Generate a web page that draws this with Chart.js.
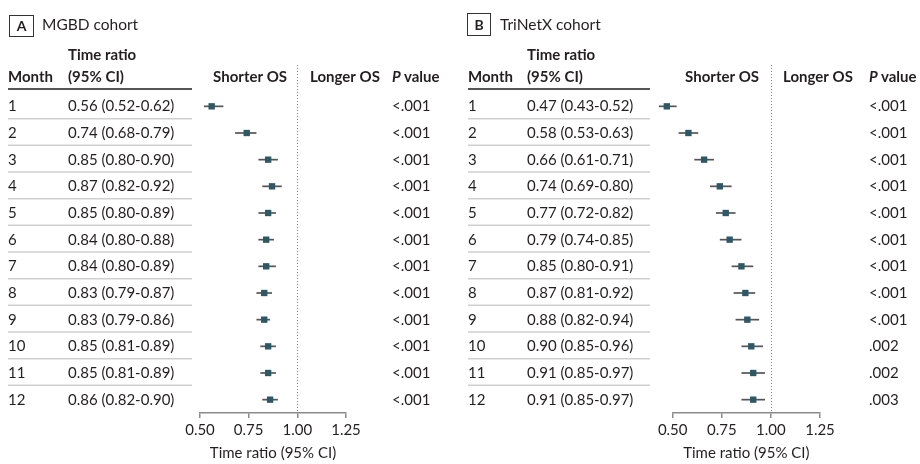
<!DOCTYPE html>
<html>
<head>
<meta charset="utf-8">
<script src="https://cdn.jsdelivr.net/npm/chart.js@4.4.0/dist/chart.umd.min.js"></script>
<style>
  html, body { margin: 0; padding: 0; background: #fff; }
  #wrap { position: relative; width: 920px; height: 464px; }
  .pane { position: absolute; top: 0; width: 460px; height: 464px; }
</style>
</head>
<body>
<div id="wrap">
  <div class="pane" style="left:0"><canvas id="cA" width="460" height="464"></canvas></div>
  <div class="pane" style="left:460px"><canvas id="cB" width="460" height="464"></canvas></div>
</div>
<script>
// ---- Data ----
const months = [1, 2, 3, 4, 5, 6, 7, 8, 9, 10, 11, 12];

const mgbdRatio = [0.56, 0.74, 0.85, 0.87, 0.85, 0.84, 0.84, 0.83, 0.83, 0.85, 0.85, 0.86];
const mgbdLow   = [0.52, 0.68, 0.80, 0.82, 0.80, 0.80, 0.80, 0.79, 0.79, 0.81, 0.81, 0.82];
const mgbdHigh  = [0.62, 0.79, 0.90, 0.92, 0.89, 0.88, 0.89, 0.87, 0.86, 0.89, 0.89, 0.90];
const mgbdP     = ['<.001', '<.001', '<.001', '<.001', '<.001', '<.001', '<.001', '<.001', '<.001', '<.001', '<.001', '<.001'];

const trinetxRatio = [0.47, 0.58, 0.66, 0.74, 0.77, 0.79, 0.85, 0.87, 0.88, 0.90, 0.91, 0.91];
const trinetxLow   = [0.43, 0.53, 0.61, 0.69, 0.72, 0.74, 0.80, 0.81, 0.82, 0.85, 0.85, 0.85];
const trinetxHigh  = [0.52, 0.63, 0.71, 0.80, 0.82, 0.85, 0.91, 0.92, 0.94, 0.96, 0.97, 0.97];
const trinetxP     = ['<.001', '<.001', '<.001', '<.001', '<.001', '<.001', '<.001', '<.001', '<.001', '.002', '.002', '.003'];

const xTicks = [0.50, 0.75, 1.00, 1.25];

// ---- Drawing ----
const FONT = 'Lato, "Liberation Sans", sans-serif';
const TEXT = '#231f20';
const MARK = '#2d5866';

function makePanel(canvasId, cfg) {
  const ratio = cfg.ratio, lo = cfg.lo, hi = cfg.hi, pv = cfg.p;
  const L = cfg.layout;

  const tablePlugin = {
    id: 'table_' + canvasId,
    beforeDatasetsDraw(chart) {
      const ctx = chart.ctx;
      const xs = chart.scales.x, ys = chart.scales.y;
      const area = chart.chartArea;
      ctx.save();
      // reference dotted line at 1.00
      const x1 = Math.round(xs.getPixelForValue(1.0)) + 0.5;
      ctx.strokeStyle = '#8a8a8a';
      ctx.lineWidth = 1;
      ctx.setLineDash([1, 2]);
      ctx.beginPath();
      ctx.moveTo(x1, area.top);
      ctx.lineTo(x1, area.bottom);
      ctx.stroke();
      ctx.setLineDash([]);
      // whiskers
      ctx.strokeStyle = '#555';
      ctx.lineWidth = 1.7;
      months.forEach((m, i) => {
        const y = ys.getPixelForValue(m);
        ctx.beginPath();
        ctx.moveTo(xs.getPixelForValue(lo[i]), y);
        ctx.lineTo(xs.getPixelForValue(hi[i]), y);
        ctx.stroke();
      });
      ctx.restore();
    },
    afterDatasetsDraw(chart) {
      // points whose centre lies left of the axis minimum are skipped by Chart.js; draw them too
      const meta = chart.getDatasetMeta(0);
      const full = { left: 0, top: 0, right: chart.width, bottom: chart.height };
      const area = chart.chartArea;
      meta.data.forEach(el => {
        if (el.x < area.left || el.x > area.right) el.draw(chart.ctx, full);
      });
    },
    afterDraw(chart) {
      const ctx = chart.ctx;
      const ys = chart.scales.y;
      ctx.save();
      // panel letter box
      ctx.strokeStyle = '#333';
      ctx.lineWidth = 1;
      ctx.strokeRect(L.box[0] + 0.5, L.box[1] + 0.5, L.box[2], L.box[3]);
      ctx.fillStyle = TEXT;
      ctx.font = 'bold 14px ' + FONT;
      ctx.textAlign = 'center';
      ctx.textBaseline = 'middle';
      ctx.fillText(cfg.letter, L.box[0] + L.box[2] / 2 + 0.5, L.box[1] + L.box[3] / 2 + 1);
      ctx.font = '15.5px ' + FONT;
      ctx.textAlign = 'left';
      ctx.fillText(cfg.title, L.titleX, 25);

      // headers
      ctx.font = 'bold 15px ' + FONT;
      ctx.fillText('Time ratio', L.trX, 55);
      ctx.fillText('Month', L.monthX, 77);
      ctx.fillText('(95% CI)', L.trX, 77);
      ctx.textAlign = 'right';
      ctx.fillText('Shorter OS', L.shorterR, 77);
      ctx.textAlign = 'left';
      ctx.fillText('Longer OS', L.longerL, 77);
      ctx.font = 'italic bold 15px ' + FONT;
      ctx.fillText('P', L.pX, 77);
      const pw = ctx.measureText('P ').width;
      ctx.font = 'bold 15px ' + FONT;
      ctx.fillText('value', L.pX + pw, 77);

      // header rule
      ctx.strokeStyle = '#555';
      ctx.lineWidth = 2;
      ctx.beginPath();
      ctx.moveTo(L.monthX, 89);
      ctx.lineTo(L.ruleR, 89);
      ctx.stroke();

      // rows
      ctx.font = '15px ' + FONT;
      ctx.fillStyle = TEXT;
      months.forEach((m, i) => {
        const y = ys.getPixelForValue(m);
        ctx.fillText(String(m), L.monthX, y);
        ctx.fillText(ratio[i].toFixed(2) + ' (' + lo[i].toFixed(2) + '-' + hi[i].toFixed(2) + ')', L.trX, y);
        ctx.fillText(pv[i], L.pX, y);
        if (i < months.length - 1) {
          const ySep = (y + ys.getPixelForValue(months[i + 1])) / 2 - 1;
          ctx.strokeStyle = '#cfcfcf';
          ctx.lineWidth = 1.5;
          ctx.beginPath();
          ctx.moveTo(L.monthX, ySep);
          ctx.lineTo(L.ruleR, ySep);
          ctx.stroke();
        }
      });
      ctx.restore();
    }
  };

  return new Chart(document.getElementById(canvasId), {
    type: 'scatter',
    data: {
      datasets: [{
        data: months.map((m, i) => ({ x: ratio[i], y: m })),
        pointStyle: 'rect',
        radius: 4.5,
        hoverRadius: 4.5,
        backgroundColor: MARK,
        borderColor: MARK,
        borderWidth: 0,
        clip: false
      }]
    },
    options: {
      responsive: false,
      animation: false,
      events: [],
      layout: { padding: { left: L.areaL, right: 460 - L.areaR, top: 65, bottom: 0 } },
      plugins: { legend: { display: false }, tooltip: { enabled: false } },
      scales: {
        x: {
          type: 'linear',
          min: 0.5,
          max: 1.25,
          afterBuildTicks: (s) => { s.ticks = xTicks.map(v => ({ value: v })); },
          afterFit: (s) => { s.height = 51; },
          ticks: {
            padding: 3,
            color: TEXT,
            font: { family: FONT, size: 15 },
            callback: (v) => Number(v).toFixed(2)
          },
          grid: { drawOnChartArea: false, drawTicks: true, tickLength: 5, color: '#8a8a8a', lineWidth: 1.5 },
          border: { display: true, color: '#8a8a8a', width: 1.5 },
          title: {
            display: true,
            text: 'Time ratio (95% CI)',
            color: TEXT,
            font: { family: FONT, size: 15 },
            padding: { top: 2, bottom: 2 }
          }
        },
        y: {
          type: 'linear',
          display: false,
          reverse: true,
          min: -0.55,
          max: 12.5
        }
      }
    },
    plugins: [tablePlugin]
  });
}

makePanel('cA', {
  letter: 'A', title: 'MGBD cohort',
  ratio: mgbdRatio, lo: mgbdLow, hi: mgbdHigh, p: mgbdP,
  layout: { box: [9, 15, 24, 21], titleX: 42, monthX: 8, trX: 68, ruleR: 192,
            shorterR: 287, longerL: 310, pX: 392, areaL: 200, areaR: 346 }
});

makePanel('cB', {
  letter: 'B', title: 'TriNetX cohort',
  ratio: trinetxRatio, lo: trinetxLow, hi: trinetxHigh, p: trinetxP,
  layout: { box: [7, 13, 23, 22], titleX: 40, monthX: 8, trX: 67, ruleR: 190,
            shorterR: 299, longerL: 323, pX: 409, areaL: 212.7, areaR: 360 }
});
</script>
</body>
</html>
